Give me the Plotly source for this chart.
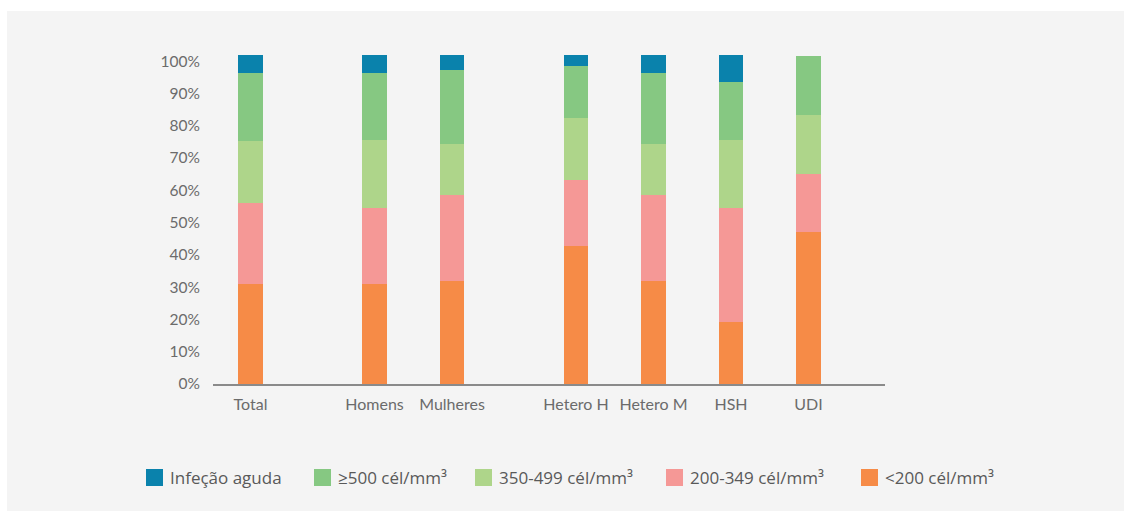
import plotly.graph_objects as go

# Groups along the x axis
categories = ["Total", "Homens", "Mulheres", "Hetero H", "Hetero M", "HSH", "UDI"]

# Share of each CD4 class per group (%)
cd4_lt200 = [31.0, 31.0, 31.9, 42.7, 31.9, 19.2, 47.2]
cd4_200_349 = [25.0, 23.6, 26.6, 20.6, 26.6, 35.4, 17.9]
cd4_350_499 = [19.2, 20.9, 15.8, 19.1, 15.8, 20.9, 18.2]
cd4_ge500 = [21.1, 20.8, 22.9, 16.1, 22.0, 18.0, 18.2]
acute = [5.6, 5.6, 4.7, 3.4, 5.6, 8.4, 0.0]

y_ticks = [0, 10, 20, 30, 40, 50, 60, 70, 80, 90, 100]
y_tick_labels = [f"{v}%" for v in y_ticks]

# Horizontal placement of the groups (gaps separate Total / sex / transmission)
x_pos = [0, 1.6, 2.6, 4.2, 5.2, 6.2, 7.2]

series = [
    ("<200 cél/mm³", cd4_lt200, "#f68b47"),
    ("200-349 cél/mm³", cd4_200_349, "#f59896"),
    ("350-499 cél/mm³", cd4_350_499, "#aed58a"),
    ("≥500 cél/mm³", cd4_ge500, "#86c882"),
    ("Infeção aguda", acute, "#0a82ac"),
]

W, H = 1131, 520
L, R, T, B = 213, 885, 45, 384  # plot area in pixels

fig = go.Figure()
for name, vals, color in series:
    fig.add_trace(go.Bar(
        x=x_pos, y=vals, name=name, width=0.32,
        marker=dict(color=color, line=dict(width=0)),
        showlegend=False, hoverinfo="name+y",
    ))


def px_x(px):
    return (px - L) / (R - L)


def px_y(py):
    return (B - py) / (B - T)


shapes = [
    # panel background
    dict(type="rect", xref="paper", yref="paper", layer="below",
         x0=px_x(7), x1=px_x(1124), y0=px_y(511), y1=px_y(11),
         fillcolor="#f4f4f4", line=dict(width=0)),
]
annotations = []

# Legend row, ordered as read left to right
legend_items = [series[4], series[3], series[2], series[1], series[0]]
legend_x = [146, 314, 475, 666, 861]
for (name, _, color), lx in zip(legend_items, legend_x):
    shapes.append(dict(type="rect", xref="paper", yref="paper",
                       x0=px_x(lx), x1=px_x(lx + 17),
                       y0=px_y(486), y1=px_y(469),
                       fillcolor=color, line=dict(width=0)))
    annotations.append(dict(xref="paper", yref="paper",
                            x=px_x(lx + 22), y=px_y(477.5),
                            xanchor="left", yanchor="middle",
                            text=name, showarrow=False,
                            font=dict(family="Open Sans", size=17, color="#595959")))

fig.update_layout(
    width=W, height=H, autosize=False,
    margin=dict(l=L, r=W - R, t=T, b=H - B, pad=0),
    paper_bgcolor="white", plot_bgcolor="rgba(0,0,0,0)",
    barmode="stack", bargap=0,
    shapes=shapes, annotations=annotations,
    xaxis=dict(
        range=[-0.484, 8.187], tickvals=x_pos, ticktext=categories,
        showgrid=False, zeroline=False, showline=True,
        linecolor="#8a8a8a", linewidth=1.5, ticks="",
        tickfont=dict(family="Lato", size=16, color="#6b6b6b"),
        ticklabelstandoff=5,
    ),
    yaxis=dict(
        range=[0, 105], tickvals=y_ticks, ticktext=y_tick_labels,
        showgrid=False, zeroline=False, showline=False, ticks="",
        tickfont=dict(family="Lato", size=15.5, color="#6b6b6b"),
        ticklabelstandoff=12,
    ),
)

fig.write_html("out.html")
